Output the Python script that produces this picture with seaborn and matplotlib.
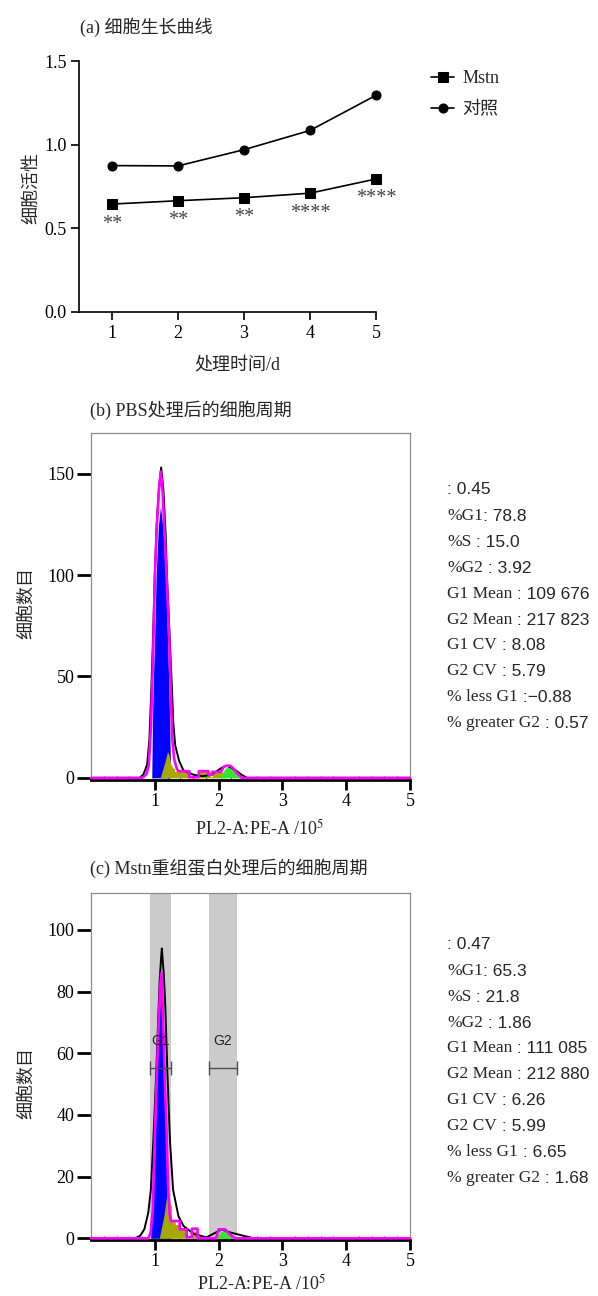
import matplotlib
matplotlib.use('Agg')
import matplotlib.pyplot as plt
from matplotlib.ticker import MultipleLocator
import seaborn as sns

# ---------------- data ----------------
# (a) growth curve
days = [1, 2, 3, 4, 5]
mstn_viability = [0.645, 0.665, 0.683, 0.710, 0.795]
ctrl_viability = [0.875, 0.873, 0.970, 1.085, 1.295]
sig_marks = ['**', '**', '**', '****', '****']

# (b) PBS cell cycle histogram (x in 1e5 units, y = cell count)
pbs_raw_x = [0, 0.76, 0.82, 0.85, 0.88, 0.915, 0.945, 0.975, 1.0, 1.03, 1.065, 1.10, 1.135, 1.17,
             1.19, 1.225, 1.26, 1.27, 1.29, 1.32, 1.38, 1.45, 1.61, 1.75, 1.88, 1.98, 2.05,
             2.13, 2.20, 2.28, 2.36, 2.45, 5.0]
pbs_raw_y = [0, 0, 1.6, 4, 6.6, 18.8, 43, 72, 100, 125, 143, 153, 142, 120,
             100, 75, 50, 43, 27, 16, 8.5, 3.6, 1.5, 0.8, 1.5, 3.5, 5,
             6, 5, 3.5, 1.5, 0, 0]
pbs_fit_x = [0, 0.78, 0.825, 0.87, 0.905, 0.94, 0.975, 1.0, 1.03, 1.065, 1.094, 1.123, 1.157, 1.19,
             1.225, 1.25, 1.272, 1.305, 1.345, 1.37, 1.54, 1.54, 1.69, 1.69, 1.84, 1.84, 1.90, 1.90,
             2.04, 2.08, 2.12, 2.18, 2.22, 2.26, 2.30, 2.36, 5.0]
pbs_fit_y = [0, 0, 0.5, 2, 6, 25, 62, 98, 123, 142, 151, 141, 118, 96,
             70, 43, 20, 9, 4.5, 3.3, 3.3, 0.3, 0.3, 3.3, 3.3, 1.5, 1.5, 3.0,
             3.0, 5.5, 6.0, 6.0, 5.0, 3.5, 2.0, 0, 0]
pbs_g1_x = [0.952, 0.964, 0.975, 0.998, 1.021, 1.056, 1.09, 1.125, 1.17, 1.198, 1.222, 1.24, 1.25]
pbs_g1_y = [0, 30, 45, 70, 100, 124, 134, 124, 100, 70, 43, 15, 0]
pbs_s_x = [1.085, 1.16, 1.20, 1.225, 1.25, 1.28, 1.31, 1.31, 1.55, 1.55, 1.70, 1.70, 1.87, 1.87,
           1.90, 1.90, 2.10, 2.10]
pbs_s_y = [0, 8, 13, 11, 7, 5, 4.5, 3.3, 3.3, 0, 0, 3.3, 3.3, 0.5,
           0.5, 2.8, 2.8, 0]
pbs_g2_x = [2.02, 2.06, 2.10, 2.14, 2.18, 2.22, 2.26, 2.30, 2.33]
pbs_g2_y = [0, 2.5, 4.5, 5.5, 5.5, 4.5, 3, 1.2, 0]
pbs_stats = [('', ': 0.45'), ('%G1', ': 78.8'), ('%S', ' : 15.0'), ('%G2', ' : 3.92'),
             ('G1 Mean', ' : 109 676'), ('G2 Mean', ' : 217 823'), ('G1 CV', ' : 8.08'),
             ('G2 CV', ' : 5.79'), ('% less G1', ' :\u22120.88'), ('% greater G2', ' : 0.57')]

# (c) Mstn recombinant protein cell cycle histogram
mst_raw_x = [0, 0.69, 0.77, 0.836, 0.898, 0.938, 0.978, 1.022, 1.055, 1.077, 1.099, 1.11, 1.121,
             1.143, 1.165, 1.198, 1.237, 1.286, 1.37, 1.45, 1.61, 1.81, 1.96, 2.05, 2.18, 2.39,
             2.55, 5.0]
mst_raw_y = [0, 0, 0.8, 2.9, 8.3, 15.8, 32, 53.5, 72, 84, 91, 94, 91,
             85, 75, 53.5, 32, 15.8, 7.2, 4, 1.4, 0.3, 1.9, 2.9, 1.9, 0.8,
             0, 0]
mst_fit_x = [0, 0.90, 0.935, 0.968, 0.99, 1.014, 1.04, 1.06, 1.084, 1.10, 1.117, 1.14, 1.16,
             1.177, 1.21, 1.232, 1.254, 1.39, 1.39, 1.50, 1.50, 1.58, 1.58, 1.67, 1.67, 1.96,
             2.00, 2.10, 2.18, 2.26, 5.0]
mst_fit_y = [0, 0, 2, 9, 25, 42.7, 58, 69.6, 81, 86, 80, 64, 49,
             40, 15.8, 8, 5.6, 5.6, 2.9, 2.9, 0.3, 0.3, 3.1, 3.1, 0, 0,
             2.9, 2.9, 1.2, 0, 0]
mst_g1_x = [0.935, 0.968, 1.001, 1.034, 1.067, 1.10, 1.133, 1.166, 1.199, 1.232, 1.265]
mst_g1_y = [0, 10, 28, 52, 72, 80, 68, 45, 20, 6, 0]
mst_s_x = [1.07, 1.14, 1.20, 1.23, 1.26, 1.26, 1.32, 1.32, 1.39, 1.39, 1.50, 1.50, 1.58, 1.58,
           1.67, 1.67, 1.98, 1.98, 2.20, 2.20]
mst_s_y = [0, 7, 15.8, 12, 10.4, 5.6, 5.6, 4.5, 4.5, 2.9, 2.9, 0, 0, 2.3,
           2.3, 0, 0, 1.2, 1.2, 0]
mst_g2_x = [1.98, 2.02, 2.06, 2.10, 2.14, 2.18, 2.22]
mst_g2_y = [0, 1.8, 2.5, 2.4, 1.8, 1.0, 0]
gate_names = ['G1', 'G2']
gate_lo = [0.92, 1.85]
gate_hi = [1.26, 2.29]
mst_stats = [('', ': 0.47'), ('%G1', ': 65.3'), ('%S', ' : 21.8'), ('%G2', ' : 1.86'),
             ('G1 Mean', ' : 111 085'), ('G2 Mean', ' : 212 880'), ('G1 CV', ' : 6.26'),
             ('G2 CV', ' : 5.99'), ('% less G1', ' : 6.65'), ('% greater G2', ' : 1.68')]

# ---------------- style ----------------
sns.set_theme(style='ticks')
SERIF = ['Liberation Serif', 'Noto Sans CJK SC']
SANS = ['Liberation Sans', 'DejaVu Sans']
plt.rcParams['font.family'] = SERIF
plt.rcParams['mathtext.fontset'] = 'stix'
plt.rcParams['axes.unicode_minus'] = False

W, H = 598, 1296
fig = plt.figure(figsize=(W / 100, H / 100), dpi=100)
fig.patch.set_facecolor('white')


def box(l, t, r, b):
    return [l / W, 1 - b / H, (r - l) / W, (b - t) / H]


# ---------------- (a) growth curve ----------------
ax_a = fig.add_axes(box(79, 61, 376, 312))
sns.lineplot(x=days, y=mstn_viability, ax=ax_a, color='black', marker='s', markersize=6.5,
             markeredgecolor='black', linewidth=1.2, label='Mstn', clip_on=False)
sns.lineplot(x=days, y=ctrl_viability, ax=ax_a, color='black', marker='o', markersize=6.5,
             markeredgecolor='black', linewidth=1.2, label='对照', clip_on=False)
for d, v, s in zip(days, mstn_viability, sig_marks):
    ax_a.annotate(s, (d, v), xytext=(0, -20), textcoords='offset pixels', ha='center',
                  va='center', fontsize=14.5, color='#444444')
ax_a.set_xlim(0.5, 5)
ax_a.set_ylim(0, 1.5)
ax_a.set_xticks(days)
ax_a.set_yticks([0, 0.5, 1.0, 1.5])
ax_a.set_yticklabels(['0.0', '0.5', '1.0', '1.5'])
ax_a.set_xlabel('')
ax_a.set_ylabel('')
sns.despine(ax=ax_a)
for sp in ['left', 'bottom']:
    ax_a.spines[sp].set_linewidth(1.2)
    ax_a.spines[sp].set_color('black')
ax_a.tick_params(direction='out', length=6, width=1.2, labelsize=13, colors='black', pad=3)
ax_a.legend(loc='upper left', bbox_to_anchor=(431 / W, 1 - 70 / H), bbox_transform=fig.transFigure,
            frameon=False, fontsize=13, handlelength=1.3, handletextpad=0.45,
            labelspacing=0.78, borderpad=0, borderaxespad=0)

fig.text(80 / W, 1 - 27 / H, '(a) 细胞生长曲线', ha='left', va='center', fontsize=13)
fig.text(32 / W, 1 - 188 / H, '细胞活性', rotation=90, ha='center', va='center', fontsize=13)
fig.text(237 / W, 1 - 366 / H, '处理时间/d', ha='center', va='center', fontsize=13)


# ---------------- (b), (c) cell cycle ----------------
def draw_cycle(ax, raw_x, raw_y, fit_x, fit_y, g1_x, g1_y, s_x, s_y, g2_x, g2_y):
    ax.fill_between(g1_x, g1_y, color='#0000ff', lw=0, zorder=1.1)
    ax.fill_between(s_x, s_y, color='#a8a800', lw=0, zorder=1.2)
    ax.fill_between(g2_x, g2_y, color='#33e633', lw=0, zorder=1.3)
    sns.lineplot(x=raw_x, y=raw_y, ax=ax, color='black', lw=1.4, sort=False,
                 estimator=None, zorder=2)
    sns.lineplot(x=fit_x, y=fit_y, ax=ax, color='#ff00ff', lw=1.9, sort=False,
                 estimator=None, zorder=3, clip_on=False)
    ax.set_xlim(0, 5)
    ax.set_xticks([1, 2, 3, 4, 5])
    ax.xaxis.set_minor_locator(MultipleLocator(0.2))
    ax.set_xlabel('')
    ax.set_ylabel('')
    for sp in ['top', 'right', 'left']:
        ax.spines[sp].set_color('#8c8c8c')
        ax.spines[sp].set_linewidth(0.9)
    ax.spines['bottom'].set_color('black')
    ax.spines['bottom'].set_linewidth(2)
    ax.tick_params(axis='y', direction='out', length=10, width=2, labelsize=13,
                   colors='black', pad=2)
    ax.tick_params(axis='x', which='major', direction='out', length=7, width=2,
                   labelsize=13, colors='black', pad=3)
    ax.tick_params(axis='x', which='minor', direction='in', length=3, width=0.8,
                   color='#444444')


def draw_stats(lines, x_px, y0_px, step_px):
    for i, (lab, val) in enumerate(lines):
        y = 1 - (y0_px + i * step_px) / H
        if lab:
            t = fig.text(x_px / W, y, lab, fontsize=12.5, family=SERIF, va='baseline')
            ax_b.annotate(val, xy=(1, 0), xycoords=t, va='bottom', ha='left',
                          fontsize=12.5, family=SANS, annotation_clip=False)
        else:
            fig.text(x_px / W, y, val, fontsize=12.5, family=SANS, va='baseline')


ax_b = fig.add_axes(box(91, 433, 410, 779.5))
draw_cycle(ax_b, pbs_raw_x, pbs_raw_y, pbs_fit_x, pbs_fit_y, pbs_g1_x, pbs_g1_y,
           pbs_s_x, pbs_s_y, pbs_g2_x, pbs_g2_y)
ax_b.set_ylim(-0.8, 170)
ax_b.set_yticks([0, 50, 100, 150])
fig.text(90 / W, 1 - 410 / H, '(b) PBS处理后的细胞周期', ha='left', va='center', fontsize=13)
fig.text(27 / W, 1 - 603 / H, '细胞数目', rotation=90, ha='center', va='center', fontsize=13)
fig.text(260 / W, 1 - 829 / H, 'PL2-A:PE-A /10$^5$', ha='center', va='center', fontsize=13)
draw_stats(pbs_stats, 447, 494, 25.9)

ax_c = fig.add_axes(box(91, 893, 410, 1239.5))
for lo, hi, name in zip(gate_lo, gate_hi, gate_names):
    ax_c.axvspan(lo, hi, color='#cbcbcb', lw=0, zorder=0.5)
    ax_c.plot([lo, hi], [55.3, 55.3], color='#4d4d4d', lw=1, zorder=4)
    ax_c.vlines([lo, hi], 53, 57.6, color='#4d4d4d', lw=1, zorder=4)
    ax_c.text((lo + hi) / 2, 63.9, name, ha='center', va='center', fontsize=10,
              family=SANS, color='#222222', zorder=5)
draw_cycle(ax_c, mst_raw_x, mst_raw_y, mst_fit_x, mst_fit_y, mst_g1_x, mst_g1_y,
           mst_s_x, mst_s_y, mst_g2_x, mst_g2_y)
ax_c.set_ylim(-0.4, 112)
ax_c.set_yticks([0, 20, 40, 60, 80, 100])
fig.text(90 / W, 1 - 868 / H, '(c) Mstn重组蛋白处理后的细胞周期', ha='left', va='center', fontsize=13)
fig.text(27 / W, 1 - 1083 / H, '细胞数目', rotation=90, ha='center', va='center', fontsize=13)
fig.text(262 / W, 1 - 1284 / H, 'PL2-A:PE-A /10$^5$', ha='center', va='center', fontsize=13)
draw_stats(mst_stats, 447, 949, 25.85)

fig.savefig('out.png', dpi=100, facecolor='white')
